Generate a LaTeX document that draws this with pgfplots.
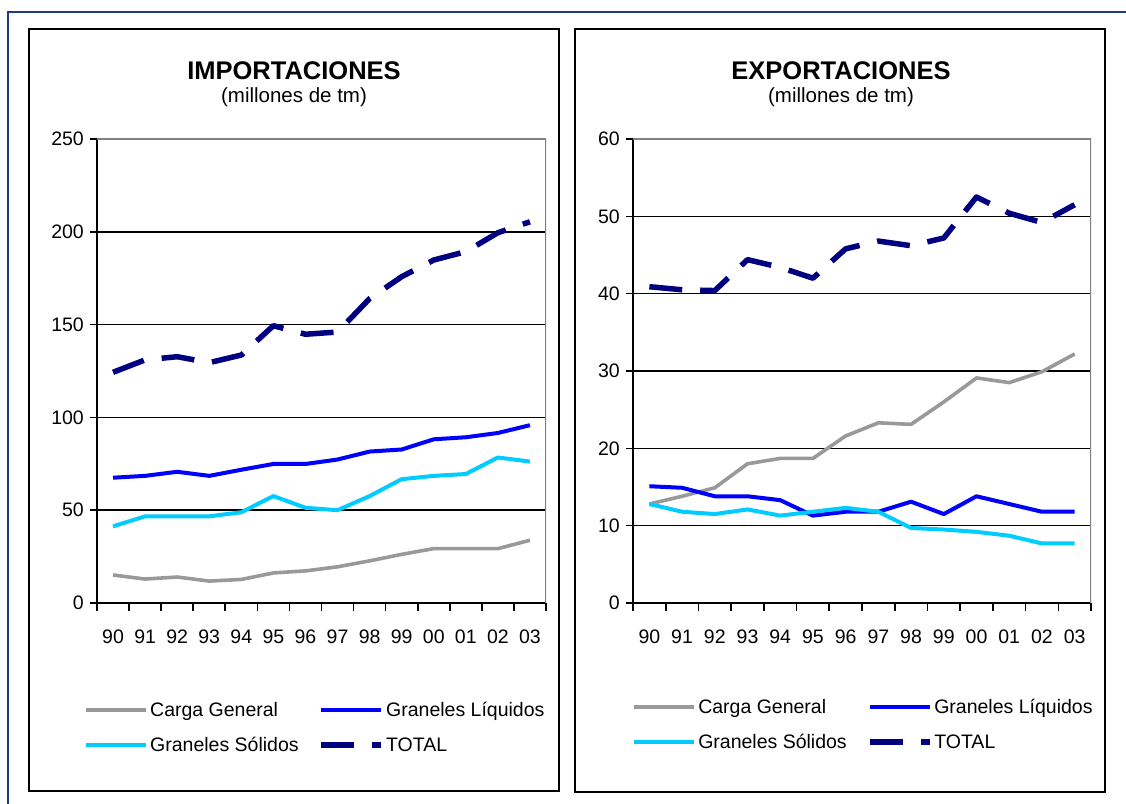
\documentclass[border=0pt]{standalone}
\usepackage{fontspec}
\setmainfont{Liberation Sans}
\usepackage{pgfplots}
\pgfplotsset{compat=1.18}

\definecolor{cgcol}{RGB}{153,153,153}
\definecolor{glcol}{RGB}{0,0,255}
\definecolor{gscol}{RGB}{0,204,255}
\definecolor{totcol}{RGB}{0,0,128}
\definecolor{framecol}{RGB}{32,56,140}
\definecolor{boxgray}{RGB}{128,128,128}

\newcommand{\tickfont}{\fontsize{19.5}{23}\selectfont}

\pgfplotsset{
  panel/.style={
    scale only axis, height=464pt, anchor=south west,
    xmin=-0.5, xmax=13.5, ymin=0,
    axis x line=bottom, axis y line=left,
    axis line style={-, black, line width=2pt},
    xtick={0,...,13},
    xticklabels={90,91,92,93,94,95,96,97,98,99,00,01,02,03},
    minor xtick={-0.5,0.5,...,13.5},
    major x tick style={draw=none},
    minor x tick style={black, line width=1.6pt},
    minor tick length=8pt, major tick length=7pt,
    tick align=outside,
    y tick style={black, line width=1.6pt},
    ymajorgrids, grid style={black, line width=1.6pt},
    tick label style={font=\tickfont},
    /pgf/number format/assume math mode=true,
    xticklabel style={inner sep=0pt, anchor=north, yshift=-20pt},
    yticklabel style={inner sep=0pt, anchor=east, xshift=-6pt},
    legend columns=2,
    legend cell align=left,
    legend style={draw=none, fill=none, anchor=north west,
      font=\tickfont, inner sep=0pt, row sep=15pt,
      nodes={inner sep=2pt},
      /tikz/every even column/.append style={column sep=18pt}},
    legend image code/.code={\draw[##1] (0pt,0pt) -- (60pt,0pt);},
  },
  cg/.style={cgcol, line width=3.6pt, line join=round},
  gl/.style={glcol, line width=4pt, line join=round},
  gs/.style={gscol, line width=4pt, line join=round},
  tot/.style={totcol, line width=5.5pt, dash pattern=on 33pt off 18pt, line join=round},
}

\begin{document}
\begin{tikzpicture}
\begin{scope}[x=1pt, y=1pt]
\path[use as bounding box] (0,0) rectangle (1126,803);
% outer frame
\draw[framecol, line width=2pt] (8,-10) -- (8,791) -- (1140,791);
% panel frames
\draw[black, line width=2.6pt] (29,774) rectangle (559,12);
\draw[black, line width=2.6pt] (575,774) rectangle (1105,11);
% titles
\node[anchor=base, font=\bfseries\fontsize{25.5}{30}\selectfont] at (294,723) {IMPORTACIONES};
\node[anchor=base, font=\fontsize{20.5}{24}\selectfont] at (294,700) {(millones de tm)};
\node[anchor=base, font=\bfseries\fontsize{25.5}{30}\selectfont] at (841,723) {EXPORTACIONES};
\node[anchor=base, font=\fontsize{20.5}{24}\selectfont] at (841,700) {(millones de tm)};
\end{scope}

% IMPORTACIONES
\begin{axis}[panel, at={(97pt,200pt)}, width=449pt, ymax=250, ytick={0,50,...,250},
  legend style={at={(axis description cs:-0.029,-0.209)}}]
\addplot[cg] coordinates {(0,15.1) (1,12.9) (2,14.0) (3,11.8) (4,12.7) (5,16.2) (6,17.3)
  (7,19.5) (8,22.7) (9,26.2) (10,29.3) (11,29.3) (12,29.3) (13,33.8)};
\addplot[gl] coordinates {(0,67.5) (1,68.5) (2,70.7) (3,68.5) (4,71.8) (5,74.9) (6,74.9)
  (7,77.3) (8,81.6) (9,82.7) (10,88.2) (11,89.3) (12,91.6) (13,95.8)};
\addplot[gs] coordinates {(0,41.3) (1,46.7) (2,46.7) (3,46.7) (4,48.9) (5,57.6) (6,51.3)
  (7,50.0) (8,57.6) (9,66.7) (10,68.5) (11,69.5) (12,78.4) (13,76.2)};
\addplot[tot] coordinates {(0,124.3) (1,131.0) (2,132.7) (3,129.5) (4,133.6) (5,149.4) (6,144.8)
  (7,146.0) (8,164.0) (9,175.8) (10,184.8) (11,189.3) (12,199.5) (13,205.4)};
\legend{Carga General, Graneles Líquidos, Graneles Sólidos, TOTAL}
\draw[boxgray, line width=2.6pt] (rel axis cs:0,1) -- (rel axis cs:1,1) -- (rel axis cs:1,0);
\end{axis}

% EXPORTACIONES
\begin{axis}[panel, at={(633pt,200pt)}, width=458pt, ymax=60, ytick={0,10,...,60},
  legend style={at={(axis description cs:-0.002,-0.2026)}}]
\addplot[cg] coordinates {(0,12.8) (1,13.8) (2,14.9) (3,18.0) (4,18.7) (5,18.7) (6,21.6)
  (7,23.3) (8,23.1) (9,26.0) (10,29.1) (11,28.5) (12,29.9) (13,32.2)};
\addplot[gl] coordinates {(0,15.1) (1,14.9) (2,13.8) (3,13.8) (4,13.3) (5,11.3) (6,11.8)
  (7,11.8) (8,13.1) (9,11.5) (10,13.8) (11,12.8) (12,11.8) (13,11.8)};
\addplot[gs] coordinates {(0,12.8) (1,11.8) (2,11.5) (3,12.1) (4,11.3) (5,11.8) (6,12.3)
  (7,11.8) (8,9.7) (9,9.5) (10,9.2) (11,8.7) (12,7.7) (13,7.7)};
\addplot[tot] coordinates {(0,40.9) (1,40.5) (2,40.4) (3,44.4) (4,43.4) (5,42.0) (6,45.8)
  (7,46.8) (8,46.2) (9,47.2) (10,52.5) (11,50.4) (12,49.2) (13,51.5)};
\legend{Carga General, Graneles Líquidos, Graneles Sólidos, TOTAL}
\draw[boxgray, line width=2.6pt] (rel axis cs:0,1) -- (rel axis cs:1,1) -- (rel axis cs:1,0);
\end{axis}
\end{tikzpicture}
\end{document}
